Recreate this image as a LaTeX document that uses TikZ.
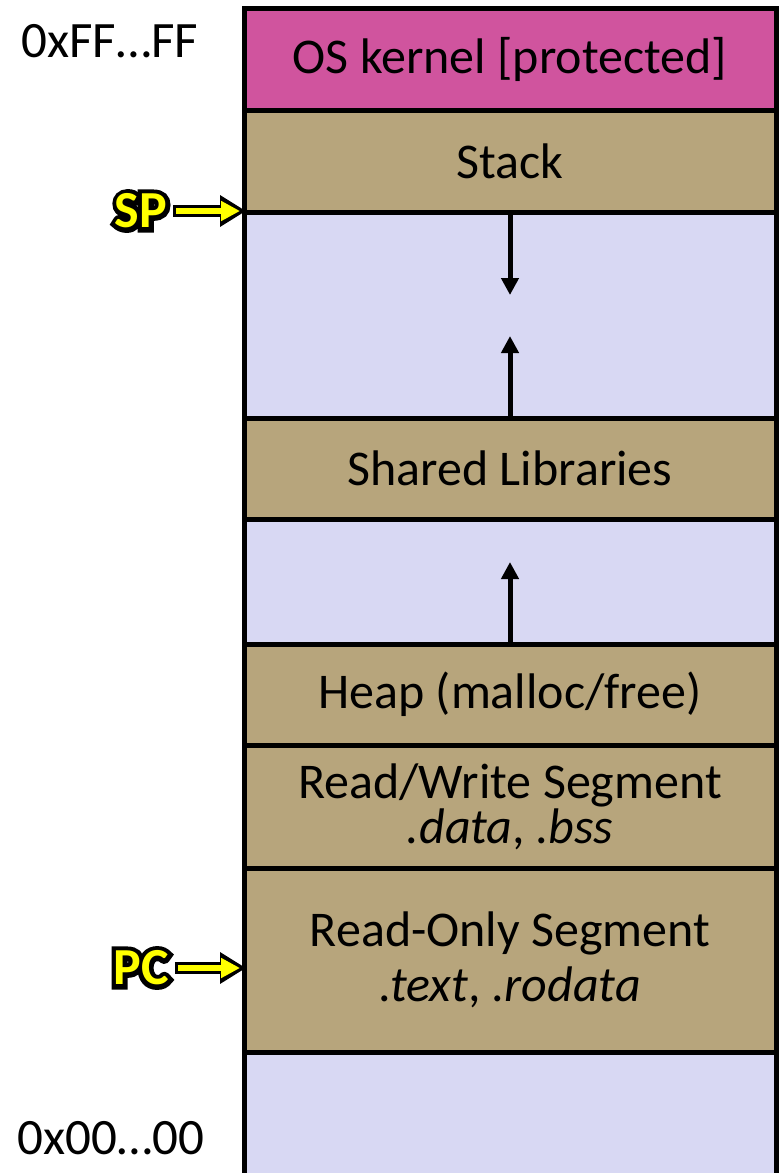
\documentclass[tikz,border=0pt]{standalone}
\usepackage{fontspec}
\setmainfont{Carlito}
\newfontfamily\glowfont{Carlito Bold}[FakeBold=18]
\usepackage{tikz}
\usepackage{xcolor}
\usetikzlibrary{arrows.meta,positioning,calc}

\definecolor{kernelpink}{RGB}{208,84,158}
\definecolor{segtan}{RGB}{183,165,124}
\definecolor{freeblue}{RGB}{216,216,243}
\definecolor{ptryellow}{RGB}{255,255,0}

\begin{document}
\begin{tikzpicture}[x=1pt, y=-1pt,
    seg/.style={draw=black, line width=5pt, fill=segtan, minimum width=532pt,
        inner sep=0pt, outer sep=0pt, align=center, font=\fontsize{50}{45}\selectfont},
    growarrow/.style={line width=5pt, -{Triangle[length=17pt, width=17pt]}},
    addr/.style={font=\fontsize{51}{51}\selectfont, inner sep=0pt, anchor=base},
    ptrlbl/.style={font=\fontsize{52}{52}\selectfont\bfseries, inner sep=0pt, text=ptryellow},
    ptrglow/.style={font=\fontsize{52}{52}\glowfont, inner sep=0pt, text=black},
    ptrout/.style={black, line width=12pt, -{Triangle[length=26pt, width=30pt]}},
    ptrin/.style={ptryellow, line width=6pt, shorten >=4pt, -{Triangle[length=19pt, width=19pt]}}]
    \useasboundingbox (0,0) rectangle (782,1173);
    \clip (0,0) rectangle (782,1173);

    % address space, top to bottom
    \node[seg, fill=kernelpink, minimum height=102pt, anchor=north west] (kernel) at (244,8) {OS kernel [protected]};
    \node[seg, minimum height=102pt, below=0pt of kernel] (stack) {Stack};
    \node[seg, fill=freeblue, minimum height=206pt, below=0pt of stack] (free1) {};
    \node[seg, minimum height=101pt, below=0pt of free1] (shared) {Shared Libraries};
    \node[seg, fill=freeblue, minimum height=125pt, below=0pt of shared] (free2) {};
    \node[seg, minimum height=101pt, below=0pt of free2] (heap) {Heap (malloc/free)};
    \node[seg, minimum height=123pt, below=0pt of heap] (rwseg) {Read/Write Segment\\\textit{.data}, \textit{.bss}};
    \node[seg, minimum height=184pt, below=0pt of rwseg] (roseg) {Read-Only Segment\\[10pt]\textit{.text}, \textit{.rodata}};
    \node[seg, fill=freeblue, minimum height=140pt, below=0pt of roseg] (free3) {};

    % growth arrows
    \coordinate (stacktip) at ($(stack.south)+(0,83)$);
    \coordinate (sharedtip) at ($(shared.north)+(0,-82)$);
    \coordinate (heaptip) at ($(heap.north)+(0,-82)$);
    \draw[growarrow] (stack.south) -- (stacktip);
    \draw[growarrow] (shared.north) -- (sharedtip);
    \draw[growarrow] (heap.north) -- (heaptip);

    % addresses
    \node[addr] (hiaddr) at (110,57) {0xFF…FF};
    \node[addr] (loaddr) at (111,1154) {0x00…00};

    % SP and PC pointers, black glow under yellow text
    \node[ptrglow] (spglow) at (141,211) {SP};
    \node[ptrglow] (pcglow) at (141,968) {PC};
    \node[ptrlbl] (sp) at (141,211) {SP};
    \node[ptrlbl] (pc) at (141,968) {PC};
    \coordinate (sptip) at (sp.east -| free1.west);
    \coordinate (pctip) at (pc.east -| roseg.west);
    \draw[ptrout] ([xshift=6pt]sp.east) -- ([xshift=2pt]sptip);
    \draw[ptrin] ([xshift=9pt]sp.east) -- (sptip);
    \draw[ptrout] ([xshift=6pt]pc.east) -- ([xshift=2pt]pctip);
    \draw[ptrin] ([xshift=9pt]pc.east) -- (pctip);
\end{tikzpicture}
\end{document}
